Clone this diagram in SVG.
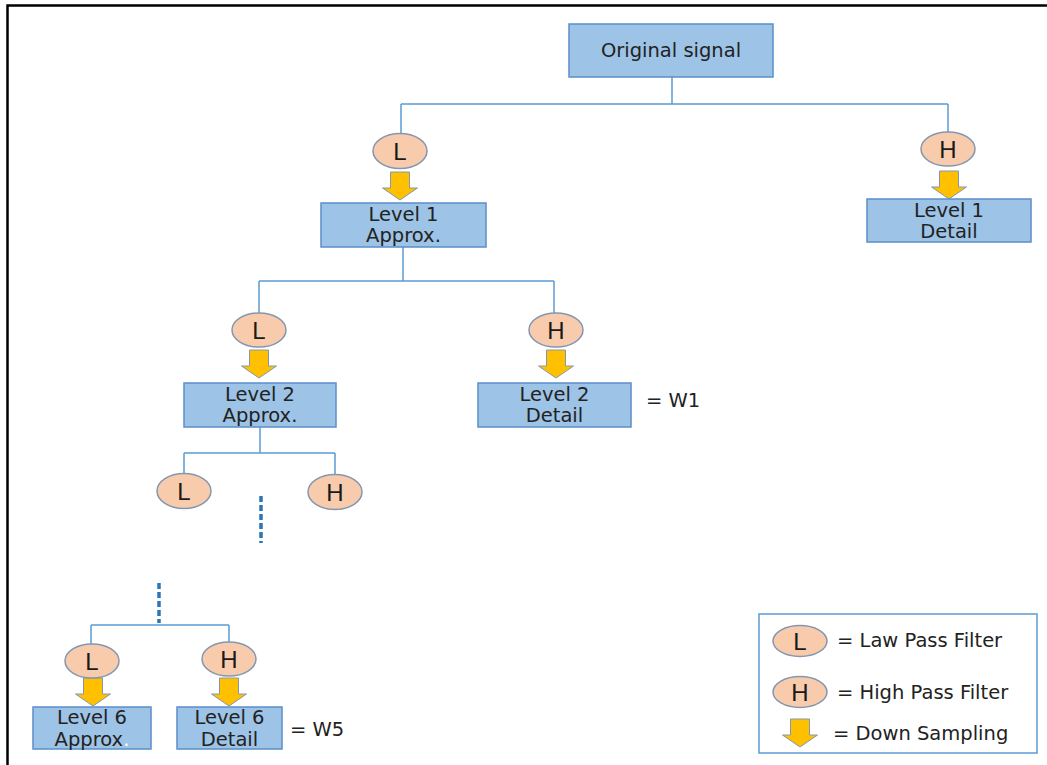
<svg xmlns="http://www.w3.org/2000/svg" width="1047" height="765" viewBox="0 0 1047 765">
<style>
.box{fill:#9DC3E6;stroke:#5B8FC9;stroke-width:1.5}
.flt{fill:#F8CBAD;stroke:#8497B0;stroke-width:1.5}
.t{font-family:"DejaVu Sans",sans-serif;font-size:19.5px;fill:#222;text-anchor:middle}
.lt{font-family:"DejaVu Sans",sans-serif;font-size:19.5px;fill:#222}
.fl{font-family:"Liberation Sans",sans-serif;font-size:24px;fill:#1a1a1a;text-anchor:middle}
.c{fill:none;stroke:#5B9BD5;stroke-width:1.5}
.d{fill:none;stroke:#2E75B6;stroke-width:3.5;stroke-dasharray:6 3}
.frame{fill:none;stroke:#000;stroke-width:2.5}
</style>
<defs>
<path id="arr" d="M-9.5,-28 h19 v16 h8 l-17.5,12 l-17.5,-12 h8 z" fill="#FFC000" stroke="#8497B0" stroke-width="1"/>
</defs>
<rect width="1047" height="765" fill="#fff"/>
<path class="frame" d="M7.5,765 V5.5 H1047"/>

<g id="connectors">
<path class="c" d="M672,77 V104 M401,104 H948 M401,104 V134 M948,104 V133"/>
<path class="c" d="M403,247 V281 M259,281 H554 M259,281 V313 M554,281 V313"/>
<path class="c" d="M260,427 V453 M184,453 H335 M184,453 V474 M335,453 V475"/>
<path class="d" d="M261,496 V543"/>
<path class="d" d="M159,583 V623"/>
<path class="c" d="M91,625 H229 M91,625 V644 M229,625 V642"/>
</g>

<g id="original"><rect class="box" x="569" y="24" width="204" height="53"/><text class="t" x="671" y="57" font-size="20.5">Original signal</text></g>

<g id="L1"><ellipse class="flt" cx="400" cy="151" rx="27" ry="17.5"/><text class="fl" x="400" y="159.5">L</text></g>
<g id="H1"><ellipse class="flt" cx="948" cy="149" rx="27" ry="17"/><text class="fl" x="948" y="157.5">H</text></g>
<g id="arrows">
<use href="#arr" x="400" y="200"/>
<use href="#arr" x="949" y="199"/>
<use href="#arr" x="259" y="378"/>
<use href="#arr" x="556" y="378"/>
<use href="#arr" x="93" y="706"/>
<use href="#arr" x="229" y="706"/>
</g>
<g id="level1approx"><rect class="box" x="321" y="203" width="165" height="44"/><text class="t" x="403.5" y="221">Level 1</text><text class="t" x="403.5" y="242">Approx.</text></g>
<g id="level1detail"><rect class="box" x="867" y="199" width="164" height="43"/><text class="t" x="949" y="217">Level 1</text><text class="t" x="949" y="238">Detail</text></g>

<g id="L2"><ellipse class="flt" cx="259" cy="330" rx="27" ry="17"/><text class="fl" x="259" y="338.5">L</text></g>
<g id="H2"><ellipse class="flt" cx="556" cy="330" rx="27" ry="17"/><text class="fl" x="556" y="338.5">H</text></g>
<g id="level2approx"><rect class="box" x="184" y="383" width="152" height="44"/><text class="t" x="260" y="401">Level 2</text><text class="t" x="260" y="422">Approx.</text></g>
<g id="level2detail"><rect class="box" x="478" y="383" width="153" height="44"/><text class="t" x="554.5" y="401">Level 2</text><text class="t" x="554.5" y="422">Detail</text></g>
<text class="lt" x="646" y="407">= W1</text>

<g id="L3"><ellipse class="flt" cx="184" cy="491" rx="27" ry="17.5"/><text class="fl" x="184" y="499.5">L</text></g>
<g id="H3"><ellipse class="flt" cx="335" cy="492" rx="27" ry="17.5"/><text class="fl" x="335" y="500.5">H</text></g>

<g id="L6"><ellipse class="flt" cx="92" cy="661" rx="27" ry="17"/><text class="fl" x="92" y="669.5">L</text></g>
<g id="H6"><ellipse class="flt" cx="229" cy="659" rx="27" ry="17"/><text class="fl" x="229" y="667.5">H</text></g>
<g id="level6approx"><rect class="box" x="33" y="707" width="118" height="42"/><text class="t" x="92" y="724" font-size="18">Level 6</text><text class="t" x="92" y="746" font-size="18">Approx<tspan fill="#fff">.</tspan></text></g>
<g id="level6detail"><rect class="box" x="177" y="707" width="105" height="42"/><text class="t" x="229.5" y="724" font-size="18">Level 6</text><text class="t" x="229.5" y="746" font-size="18">Detail</text></g>
<text class="lt" x="290" y="736">= W5</text>

<g id="legend">
<rect x="759" y="614" width="278" height="139" fill="#fff" stroke="#5B9BD5" stroke-width="1.5"/>
<ellipse class="flt" cx="800" cy="641" rx="27" ry="15.5"/><text class="fl" x="800" y="649.5">L</text>
<text class="lt" x="837" y="647" font-size="20">= Law Pass Filter</text>
<ellipse class="flt" cx="800" cy="692" rx="27" ry="15.5"/><text class="fl" x="800" y="700.5">H</text>
<text class="lt" x="837" y="699" font-size="20">= High Pass Filter</text>
<use href="#arr" x="800" y="747"/>
<text class="lt" x="833" y="740" font-size="20">= Down Sampling</text>
</g>
</svg>
